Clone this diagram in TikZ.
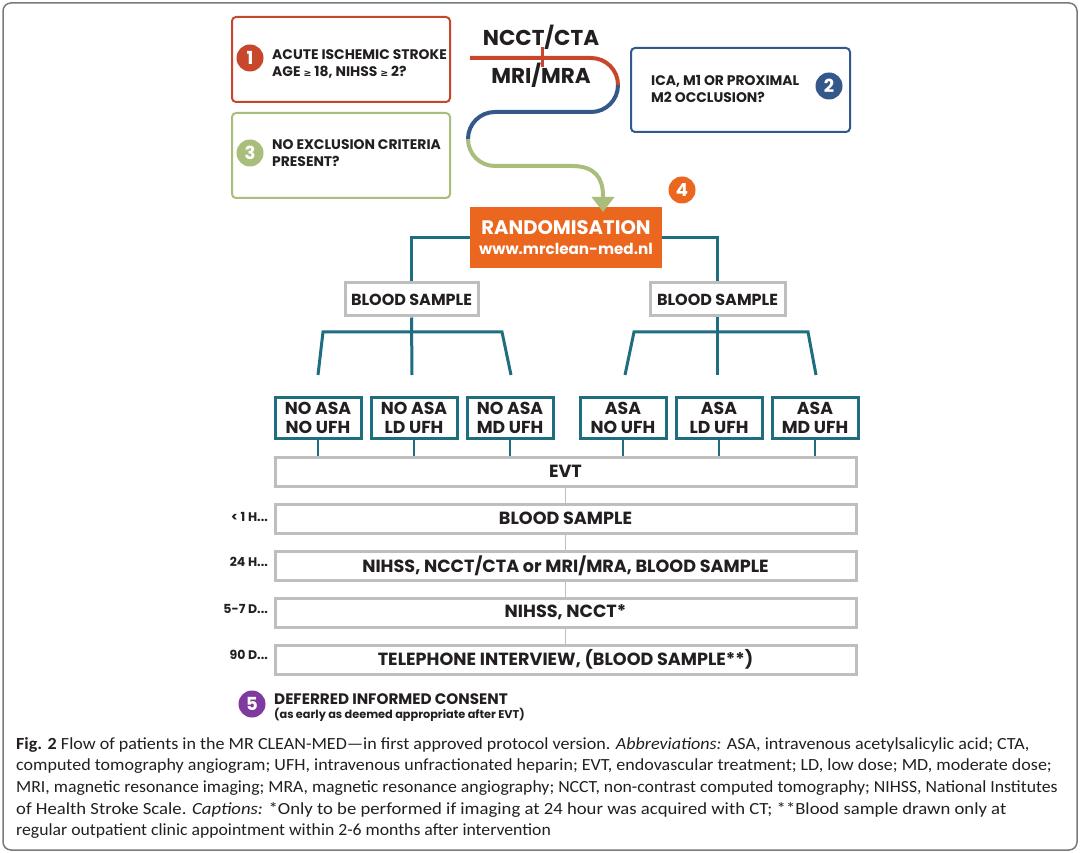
\documentclass[tikz,border=0pt]{standalone}
\usepackage{fontspec}
\setmainfont{Poppins}
\newfontfamily\capfont{Carlito}
\newfontfamily\symfont{DejaVu Sans}
\usetikzlibrary{arrows.meta}
\definecolor{cred}{HTML}{C8462B}
\definecolor{cblue}{HTML}{34588A}
\definecolor{cgreen}{HTML}{A9BE7A}
\definecolor{corange}{HTML}{EB661E}
\definecolor{cteal}{HTML}{1F6E80}
\definecolor{cgray}{HTML}{BEBEBE}
\definecolor{cpurple}{HTML}{7E3A9E}
\definecolor{ctext}{HTML}{231F20}
\definecolor{cframe}{HTML}{7A7A7A}
\newcommand{\gesym}{{\symfont\fontsize{9.5}{9.5}\selectfont ≥}}
\tikzset{
  qbox/.style={draw=#1, line width=2pt, rounded corners=4pt, fill=white, inner sep=0pt, anchor=north west},
  qtext/.style={anchor=west, align=left, inner sep=0pt, text=ctext, font=\bfseries\fontsize{13.9}{17}\selectfont},
  num/.style={circle, fill=#1, minimum size=27pt, inner sep=0pt, text=white, font=\bfseries\fontsize{18}{18}\selectfont},
  tl/.style={draw=cteal, line width=3pt},
  tlthin/.style={draw=cteal, line width=1.6pt},
  gl/.style={draw=cgray, line width=1.6pt},
  bsbox/.style={draw=cgray, line width=3pt, fill=white, minimum height=33pt, inner sep=0pt, text=ctext, font=\bfseries\fontsize{16}{16}\selectfont},
  tbox/.style={draw=cteal, line width=3pt, fill=white, minimum width=86pt, minimum height=41pt, inner sep=0pt, align=center, text=ctext, font=\bfseries\fontsize{17.3}{19}\selectfont},
  evbox/.style={draw=cgray, line width=3pt, fill=white, minimum width=581pt, minimum height=29pt, inner sep=0pt, text=ctext, font=\bfseries\fontsize{17.6}{17.6}\selectfont},
  tlab/.style={anchor=east, inner sep=0pt, text=ctext, font=\bfseries\fontsize{12.5}{12.5}\selectfont},
  capline/.style={anchor=west, inner sep=0pt, text=ctext, font=\capfont\fontsize{17}{17}\selectfont},
}
\begin{document}
\begin{tikzpicture}[x=1pt,y=-1pt]
\useasboundingbox (0,0) rectangle (1080,853);
\fill[white] (0,0) rectangle (1080,853);
\draw[cframe, line width=1.5pt, rounded corners=8pt] (3,3) rectangle (1077,850);

% question boxes
\node[qbox=cred, minimum width=218pt, minimum height=85pt] (b1) at (231,16) {};
\node[num=cred] (n1) at (250,58) {1};
\node[qtext] (t1) at (272,64) {ACUTE ISCHEMIC STROKE\\AGE \gesym{} 18, NIHSS \gesym{} 2?};

\node[qbox=cblue, minimum width=219pt, minimum height=84pt] (b2) at (630,47) {};
\node[num=cblue] (n2) at (829,86) {2};
\node[qtext] (t2) at (651,88.5) {ICA, M1 OR PROXIMAL\\M2 OCCLUSION?};

\node[qbox=cgreen, minimum width=218pt, minimum height=85pt] (b3) at (231,112) {};
\node[num=cgreen] (n3) at (250,153) {3};
\node[qtext] (t3) at (272,153.5) {NO EXCLUSION CRITERIA\\PRESENT?};

% imaging labels
\node[inner sep=0pt, text=ctext, font=\bfseries\fontsize{21.5}{21.5}\selectfont] (ncct) at (541,37) {NCCT/CTA};
\node[inner sep=0pt, text=ctext, font=\bfseries\fontsize{21.5}{21.5}\selectfont] (mri) at (541,75) {MRI/MRA};

% randomisation
\node[fill=corange, minimum width=192pt, minimum height=61pt, inner sep=0pt] (rand) at (566,237.5) {};
\node[inner sep=0pt, text=white, font=\bfseries\fontsize{19.6}{19.6}\selectfont] (randt) at (566,228) {RANDOMISATION};
\node[inner sep=0pt, text=white, font=\bfseries\fontsize{15.2}{15.2}\selectfont] (randu) at (566,249) {www.mrclean-med.nl};
\node[num=corange] (n4) at (682,190) {4};

% winding path
\coordinate (p0) at (470,58);
\coordinate (pr) at (618,85);
\coordinate (pl) at (468,139);
\coordinate (pe) at (603,212);
\draw[cred, line width=4pt] (p0) -- (591,58) .. controls (606,58) and (618,70) .. (pr);
\draw[cblue, line width=4pt] (pr) .. controls (618,100) and (606,112) .. (591,112) -- (495,112) .. controls (480,112) and (468,124) .. (pl);
\draw[cgreen, line width=4pt, -{Triangle[width=22pt,length=15pt]}] (pl) .. controls (468,154) and (480,166) .. (495,166) -- (572,166) .. controls (595,166) and (603,178) .. (603,196) -- (pe);
\coordinate (k1) at (542,47);
\coordinate (k2) at (542,67);
\draw[cred, line width=3pt] (k1) -- (k2);

% blood sample boxes
\node[bsbox, minimum width=133pt] (bs1) at (411.5,299.5) {BLOOD SAMPLE};
\node[bsbox, minimum width=135pt] (bs2) at (717.5,299.5) {BLOOD SAMPLE};
\draw[tl] (rand.west |- 0,238) -| (bs1.north);
\draw[tl] (rand.east |- 0,238) -| (bs2.north);

% treatment boxes
\node[tbox] (a1) at (318,417.5) {NO ASA\\NO UFH};
\node[tbox] (a2) at (414,417.5) {NO ASA\\LD UFH};
\node[tbox] (a3) at (510,417.5) {NO ASA\\MD UFH};
\node[tbox] (a4) at (623,417.5) {ASA\\NO UFH};
\node[tbox] (a5) at (719,417.5) {ASA\\LD UFH};
\node[tbox] (a6) at (815,417.5) {ASA\\MD UFH};

% branches
\coordinate (l1) at (318,375);
\coordinate (l2) at (412,375);
\coordinate (l3) at (511,375);
\coordinate (r1) at (625,375);
\coordinate (r2) at (717.5,375);
\coordinate (r3) at (816,375);
\draw[tl] (l1) -- (323,332) -- (502,332) -- (l3);
\draw[tl] (bs1.south) -- (l2);
\draw[tl] (r1) -- (634,332) -- (808,332) -- (r3);
\draw[tl] (bs2.south) -- (r2);

% timeline boxes
\node[evbox] (e1) at (565.5,471.5) {EVT};
\node[evbox] (e2) at (565.5,518.5) {BLOOD SAMPLE};
\node[evbox] (e3) at (565.5,565.5) {NIHSS, NCCT/CTA or MRI/MRA, BLOOD SAMPLE};
\node[evbox] (e4) at (565.5,612.5) {NIHSS, NCCT*};
\node[evbox] (e5) at (565.5,659.5) {TELEPHONE INTERVIEW, (BLOOD SAMPLE**)};
\foreach \a in {a1,a2,a3,a4,a5,a6} \draw[tlthin] (\a.south) -- (\a.south |- e1.north);
\draw[gl] (e1) -- (e2);
\draw[gl] (e2) -- (e3);
\draw[gl] (e3) -- (e4);
\draw[gl] (e4) -- (e5);

\node[tlab] (h1) at (268,517) {< 1 H...};
\node[tlab] (h2) at (268,562) {24 H...};
\node[tlab] (h3) at (268,609) {5-7 D...};
\node[tlab] (h4) at (268,655) {90 D...};

% consent
\node[num=cpurple] (n5) at (252,704) {5};
\node[anchor=west, inner sep=0pt, text=ctext, font=\bfseries\fontsize{15.2}{15.2}\selectfont] (dc) at (274,699) {DEFERRED INFORMED CONSENT};
\node[anchor=west, inner sep=0pt, text=ctext, font=\bfseries\fontsize{11.3}{11.3}\selectfont] (dc2) at (274,715) {(as early as deemed appropriate after EVT)};

% caption
\node[capline] (c1) at (16,745) {\scalebox{1.062}[1]{\textbf{Fig. 2} Flow of patients in the MR CLEAN-MED—in first approved protocol version. \textit{Abbreviations:} ASA, intravenous acetylsalicylic acid; CTA,}};
\node[capline] (c2) at (16,766.5) {\scalebox{1.06}[1]{computed tomography angiogram; UFH, intravenous unfractionated heparin; EVT, endovascular treatment; LD, low dose; MD, moderate dose;}};
\node[capline] (c3) at (16,788) {\scalebox{1.043}[1]{MRI, magnetic resonance imaging; MRA, magnetic resonance angiography; NCCT, non-contrast computed tomography; NIHSS, National Institutes}};
\node[capline] (c4) at (16,809.5) {\scalebox{1.1}[1]{of Health Stroke Scale. \textit{Captions:} *Only to be performed if imaging at 24 hour was acquired with CT; **Blood sample drawn only at}};
\node[capline] (c5) at (16,831) {\scalebox{1.041}[1]{regular outpatient clinic appointment within 2-6 months after intervention}};
\end{tikzpicture}
\end{document}
